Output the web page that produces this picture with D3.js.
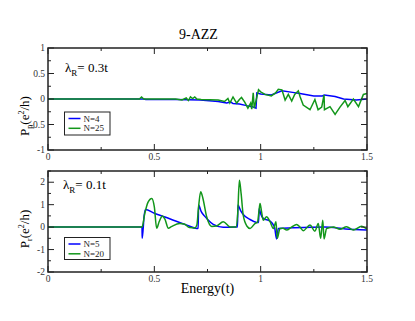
<!DOCTYPE html>
<html><head><meta charset="utf-8">
<script src="https://cdn.jsdelivr.net/npm/d3@7"></script>
<style>body{margin:0;background:#fff}svg{display:block}text{font-family:"Liberation Serif","Times New Roman",serif}</style>
</head><body><svg id="c" width="415" height="321"></svg>
<script>
// ---- data ----
const topE_N4 = [0,0.45,0.46,0.6,0.715,0.8,0.84,0.86,0.87,0.9,0.934,0.96,0.978,0.982,1.0,1.05,1.1,1.15,1.185,1.25,1.29,1.3,1.35,1.39,1.45,1.5];
const topP_N4 = [0,0,-0.01,-0.01,-0.02,-0.05,-0.08,-0.06,-0.09,-0.1,-0.13,-0.15,-0.18,0.12,0.1,0.08,0.16,0.13,0.11,0.06,0.06,0.08,0.05,0,-0.02,0];
const topE_N25 = [0,0.43,0.44,0.45,0.6,0.63,0.65,0.66,0.67,0.68,0.69,0.7,0.72,0.8,0.83,0.846,0.855,0.87,0.887,0.9,0.91,0.925,0.94,0.953,0.958,0.965,0.97,0.99,1.0,1.02,1.05,1.07,1.083,1.1,1.115,1.13,1.146,1.16,1.177,1.185,1.2,1.232,1.255,1.27,1.287,1.298,1.3,1.326,1.35,1.373,1.397,1.41,1.436,1.46,1.483,1.5];
const topP_N25 = [0,0,0.04,0,0,-0.02,0.02,-0.03,0.04,0.01,0.04,0,-0.01,-0.02,-0.05,0.01,-0.08,0.04,-0.08,-0.01,0.03,-0.06,-0.18,-0.08,-0.2,0.12,-0.18,0.18,0.14,0.09,0.06,0.12,0.19,0.18,-0.02,0.09,-0.04,0.09,0.16,0.05,-0.12,-0.21,-0.01,-0.21,-0.16,0.08,-0.21,-0.15,-0.3,-0.16,-0.03,-0.15,0,-0.15,0.09,0.11];

const botE_N5 = [0,0.442,0.443,0.452,0.458,0.5,0.55,0.6,0.65,0.7,0.706,0.708,0.72,0.735,0.746,0.777,0.824,0.884,0.891,0.893,0.905,0.918,0.95,0.981,0.99,0.993,1.0,1.012,1.044,1.065,1.075,1.083,1.15,1.3,1.4,1.5];
const botP_N5 = [0,0,-0.5,0.5,0.79,0.62,0.45,0.27,0.1,-0.06,-0.05,0.98,0.7,0.5,0.39,0.12,-0.01,0,0,0.98,0.75,0.56,0.34,0.21,0.2,0.83,0.6,0.39,0.27,0,-0.53,-0.06,-0.03,0.01,-0.08,-0.13];
const botE_N20 = [0,0.442,0.455,0.47,0.488,0.5,0.511,0.523,0.538,0.55,0.566,0.58,0.62,0.64,0.665,0.69,0.7,0.708,0.718,0.728,0.746,0.77,0.793,0.824,0.856,0.884,0.892,0.9,0.908,0.918,0.935,0.95,0.973,0.985,0.992,0.997,1.004,1.012,1.028,1.044,1.06,1.072,1.078,1.091,1.105,1.122,1.145,1.169,1.185,1.2,1.232,1.255,1.271,1.282,1.292,1.298,1.31,1.342,1.373,1.404,1.436,1.475,1.5];
const botP_N20 = [0,0,0.6,1.1,1.28,0.9,-0.05,0.25,0.5,0.35,-0.05,0.02,0.16,0.14,-0.02,-0.04,0.1,0.9,1.57,1.3,0.46,0.03,0.05,0.24,0.01,0,0.6,2.09,1.5,0.53,0.05,-0.06,0.16,0.22,0.7,1.05,0.7,0.31,0.46,0.24,-0.06,0.24,-0.5,-0.06,-0.05,-0.13,0,0.12,0,-0.16,0.09,-0.18,0.16,-0.5,0.31,-0.53,-0.06,0.01,-0.1,0.02,-0.13,0.04,-0.09];

const xTicks = [0,0.5,1,1.5];
const xTickLabels = ["0","0.5","1","1.5"];
const topYTicks = [-1,-0.5,0,0.5,1];
const topYTickLabels = ["-1","-0.5","0","0.5","1"];
const botYTicks = [-2,-1,0,1,2];
const botYTickLabels = ["-2","-1","0","1","2"];

const BLUE = "#0000ff", GREEN = "#12961a";
const svg = d3.select("#c");

function panel(cfg){
  const {x0,x1,y0,y1,ydom,yTicks,yLabels,yMinorStep,series,curve} = cfg;
  const x = d3.scaleLinear().domain([0,1.5]).range([x0,x1]);
  const y = d3.scaleLinear().domain(ydom).range([y1,y0]);
  const g = svg.append("g");
  const id = "clip"+Math.round(y0);
  svg.append("clipPath").attr("id",id).append("rect").attr("x",x0).attr("y",y0).attr("width",x1-x0).attr("height",y1-y0);
  const line = d3.line().x(d=>x(d[0])).y(d=>y(d[1])).curve(curve);
  series.forEach(s=>{
    const pts = s.e.map((e,i)=>[e,s.p[i]]);
    g.append("path").attr("d",line(pts)).attr("fill","none").attr("stroke",s.color).attr("stroke-width",1.5).attr("clip-path",`url(#${id})`);
  });
  g.append("rect").attr("x",x0).attr("y",y0).attr("width",x1-x0).attr("height",y1-y0).attr("fill","none").attr("stroke","#222").attr("stroke-width",1.5);
  const xMinor = d3.range(0,1.5001,0.25);
  xMinor.forEach(v=>{
    const major = Math.abs(v*2-Math.round(v*2))<1e-6;
    const L = major?6:3;
    g.append("line").attr("x1",x(v)).attr("x2",x(v)).attr("y1",y1).attr("y2",y1-L).attr("stroke","#222");
    g.append("line").attr("x1",x(v)).attr("x2",x(v)).attr("y1",y0).attr("y2",y0+L).attr("stroke","#222");
  });
  xTicks.forEach((v,i)=>{
    g.append("text").attr("x",x(v)).attr("y",y1+9.5).attr("text-anchor","middle").attr("font-size",9.5).attr("fill","#333").text(xTickLabels[i]);
  });
  const yMinor = d3.range(ydom[0],ydom[1]+1e-6,yMinorStep);
  yMinor.forEach(v=>{
    const major = yTicks.some(t=>Math.abs(t-v)<1e-6);
    const L = major?6:3;
    g.append("line").attr("x1",x0).attr("x2",x0+L).attr("y1",y(v)).attr("y2",y(v)).attr("stroke","#222");
    g.append("line").attr("x1",x1).attr("x2",x1-L).attr("y1",y(v)).attr("y2",y(v)).attr("stroke","#222");
  });
  yTicks.forEach((v,i)=>{
    g.append("text").attr("x",x0-3).attr("y",y(v)+3.2).attr("text-anchor","end").attr("font-size",9.5).attr("fill","#333").text(yLabels[i]);
  });
  return {x,y,g};
}

panel({x0:48,x1:367,y0:48,y1:150,ydom:[-1,1],yTicks:topYTicks,yLabels:topYTickLabels,yMinorStep:0.25,
  curve:d3.curveLinear,
  series:[{e:topE_N4,p:topP_N4,color:BLUE},{e:topE_N25,p:topP_N25,color:GREEN}]});
panel({x0:48,x1:367,y0:171,y1:272,ydom:[-2,2.5],yTicks:botYTicks,yLabels:botYTickLabels,yMinorStep:0.5,
  curve:d3.curveMonotoneX,
  series:[{e:botE_N5,p:botP_N5,color:BLUE},{e:botE_N20,p:botP_N20,color:GREEN}]});

svg.append("text").attr("x",198.5).attr("y",38.5).attr("text-anchor","middle").attr("font-size",14).text("9-AZZ");
svg.append("text").attr("x",207.5).attr("y",293).attr("text-anchor","middle").attr("font-size",14).text("Energy(t)");

function ylabel(cx,cy,sub){
  const t = svg.append("text").attr("transform",`translate(${cx},${cy}) rotate(-90)`).attr("text-anchor","middle").attr("font-size",13);
  t.append("tspan").text("P");
  t.append("tspan").attr("font-size",8).attr("dy",2.5).text(sub);
  t.append("tspan").attr("dy",-2.5).text("(e");
  t.append("tspan").attr("font-size",8).attr("dy",-5).text("2");
  t.append("tspan").attr("dy",5).text("/h)");
}
ylabel(29,116,"p");
ylabel(29,229,"r");

function lam(xp,yp,val){
  const t = svg.append("text").attr("x",xp).attr("y",yp).attr("font-size",13);
  t.append("tspan").text("λ");
  t.append("tspan").attr("font-size",9).attr("dy",4).text("R");
  t.append("tspan").attr("dy",-4).text("= "+val);
}
lam(65,72,"0.3t");
lam(63,189,"0.1t");

function legend(bx,by,bw,bh,items){
  svg.append("rect").attr("x",bx).attr("y",by).attr("width",bw).attr("height",bh).attr("fill","#fff").attr("stroke","#222").attr("stroke-width",1);
  items.forEach((it,i)=>{
    const yy = by+6.5+i*9.8;
    svg.append("line").attr("x1",bx+4).attr("x2",bx+16).attr("y1",yy).attr("y2",yy).attr("stroke",it.color).attr("stroke-width",1.5);
    svg.append("text").attr("x",bx+19).attr("y",yy+3).attr("font-size",9).attr("fill","#222").text(it.label);
  });
}
legend(64.5,112,45.5,23,[{label:"N=4",color:BLUE},{label:"N=25",color:GREEN}]);
legend(64.5,237.5,45.5,22,[{label:"N=5",color:BLUE},{label:"N=20",color:GREEN}]);
</script></body></html>
